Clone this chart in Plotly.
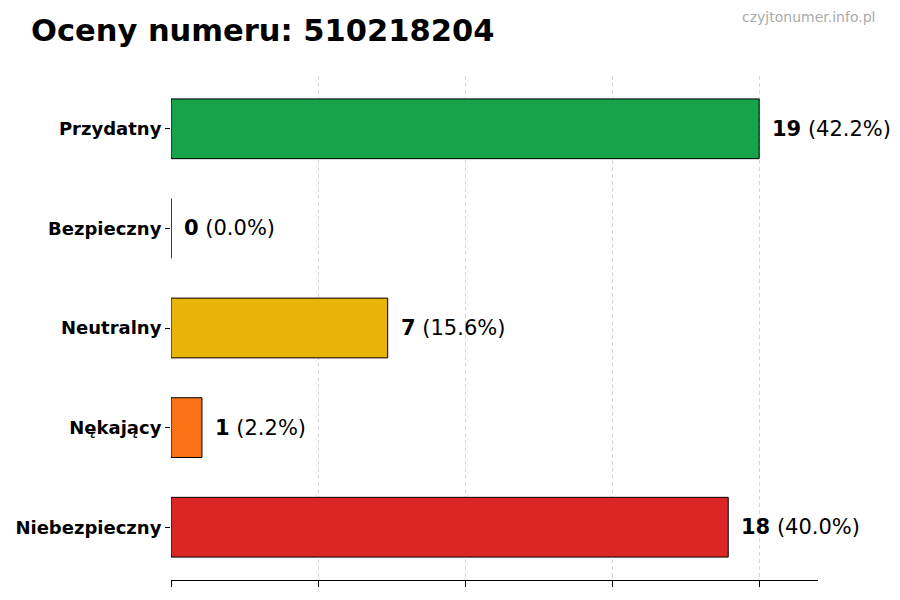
import numpy as np
import plotly.graph_objects as go

# data
categories = ["Przydatny", "Bezpieczny", "Neutralny", "Nękający", "Niebezpieczny"]
counts = [19, 0, 7, 1, 18]
colors = ["#16a34a", "#22c55e", "#eab308", "#f97316", "#dc2626"]
title = "Oceny numeru: 510218204"
watermark = "czyjtonumer.info.pl"

total = sum(counts)
percents = [100 * c / total for c in counts]

font = "DejaVu Sans, Liberation Sans, sans-serif"

fig = go.Figure(go.Bar(
    x=counts,
    y=categories,
    orientation="h",
    width=0.6,
    marker=dict(color=colors, line=dict(color="black", width=1)),
    hoverinfo="skip",
))

# value labels to the right of each bar
for cat, c, p in zip(categories, counts, percents):
    fig.add_annotation(
        x=c, y=cat, xref="x", yref="y",
        text=f"<b>{c}</b> ({p:.1f}%)",
        showarrow=False, xanchor="left", yanchor="middle",
        xshift=11, font=dict(family=font, size=21, color="black"),
    )

# title and watermark sit above the plot area (paper coords are plot-relative)
fig.add_annotation(
    x=-0.2195, y=1.091, xref="paper", yref="paper",
    text=f"<b>{title}</b>", showarrow=False,
    xanchor="left", yanchor="middle",
    font=dict(family=font, size=30.5, color="black"),
)
fig.add_annotation(
    x=1.0912, y=1.117, xref="paper", yref="paper",
    text=watermark, showarrow=False,
    xanchor="right", yanchor="middle",
    font=dict(family=font, size=14, color="#aaaaaa"),
)

xmax = max(counts)
fig.update_xaxes(
    range=[0, xmax * 1.1],
    tickvals=np.linspace(0, xmax, 5),
    showticklabels=False,
    ticks="outside", ticklen=6, tickcolor="black",
    showline=True, linecolor="black", linewidth=1,
    showgrid=True, gridcolor="rgba(0,0,0,0.16)", griddash="4px,3px", gridwidth=1,
    zeroline=False, automargin=False,
)
fig.update_yaxes(
    categoryorder="array", categoryarray=categories[::-1],
    range=[-0.53, 4.53],
    ticks="outside", ticklen=5, tickcolor="black",
    tickfont=dict(family=font, size=18, color="black", weight="bold"),
    showline=False, showgrid=False, zeroline=False, automargin=False,
)
# page body has an 8px margin, so the figure is 8px smaller each way
fig.update_layout(
    width=892, height=592,
    margin=dict(l=163, r=82, t=68, b=20),
    paper_bgcolor="white", plot_bgcolor="white",
    showlegend=False,
    font=dict(family=font),
)

fig.write_html("out.html")
